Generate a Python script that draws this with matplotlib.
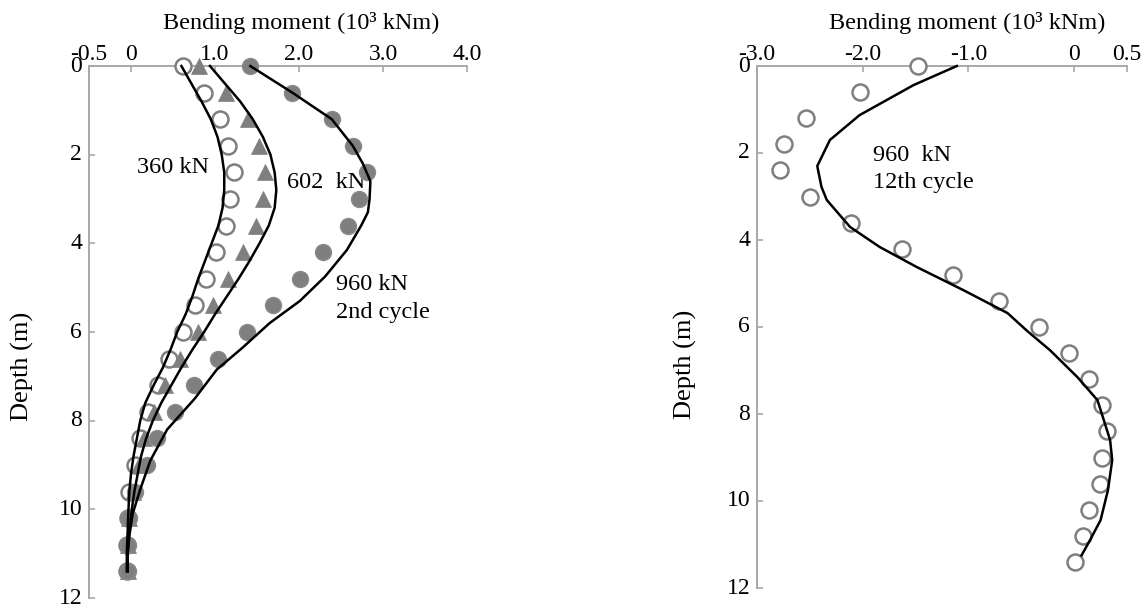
import matplotlib
matplotlib.use("Agg")
import matplotlib.pyplot as plt
from matplotlib.transforms import ScaledTranslation

plt.rcParams["font.family"] = ["Liberation Serif", "DejaVu Serif"]

# Measured depths (m)
depth = [0.0, 0.6, 1.2, 1.8, 2.4, 3.0, 3.6, 4.2, 4.8, 5.4,
         6.0, 6.6, 7.2, 7.8, 8.4, 9.0, 9.6, 10.2, 10.8, 11.4]

# Measured bending moments (10^3 kNm), left panel
m360 = [0.62, 0.87, 1.06, 1.15, 1.23, 1.18, 1.13, 1.01, 0.89, 0.76,
        0.62, 0.45, 0.32, 0.20, 0.11, 0.05, -0.02, -0.04, -0.05, -0.05]
m602 = [0.81, 1.13, 1.39, 1.52, 1.60, 1.57, 1.49, 1.33, 1.15, 0.98,
        0.80, 0.58, 0.40, 0.27, 0.15, 0.10, 0.02, -0.02, -0.03, -0.04]
m960 = [1.42, 1.92, 2.39, 2.64, 2.81, 2.71, 2.58, 2.29, 2.01, 1.69,
        1.38, 1.04, 0.75, 0.52, 0.31, 0.19, 0.05, -0.02, -0.04, -0.04]

# Computed profiles, left panel
calc360_z = [0.0, 0.4, 0.8, 1.2, 1.6, 2.0, 2.4, 2.8, 3.2, 3.6, 4.0, 4.4, 4.8,
             5.2, 5.6, 6.0, 6.4, 6.8, 7.2, 7.6, 8.0, 8.4, 8.8, 9.2, 9.6,
             10.0, 10.5, 11.0, 11.4]
calc360_m = [0.60, 0.72, 0.84, 0.95, 1.03, 1.08, 1.11, 1.11, 1.09, 1.04, 0.96,
             0.88, 0.80, 0.73, 0.65, 0.55, 0.47, 0.38, 0.27, 0.17, 0.11, 0.07,
             0.03, 0.00, -0.02, -0.03, -0.04, -0.05, -0.05]
calc602_z = [0.0, 0.4, 0.8, 1.2, 1.6, 2.0, 2.4, 2.8, 3.2, 3.6, 4.0, 4.4, 4.8,
             5.2, 5.6, 6.0, 6.4, 6.8, 7.2, 7.6, 8.0, 8.4, 8.8, 9.2, 9.6,
             10.0, 10.5, 11.0, 11.4]
calc602_m = [0.94, 1.12, 1.30, 1.45, 1.57, 1.66, 1.71, 1.73, 1.71, 1.64, 1.53,
             1.41, 1.28, 1.14, 1.00, 0.87, 0.73, 0.60, 0.48, 0.36, 0.26, 0.18,
             0.12, 0.08, 0.04, 0.01, -0.02, -0.04, -0.04]
calc960_z = [0.0, 0.6, 1.2, 1.8, 2.2, 2.6, 3.0, 3.3, 3.6, 4.15, 4.75, 5.3,
             5.8, 6.35, 6.85, 7.5, 8.2, 8.9, 9.55, 10.1, 10.6, 11.0, 11.4]
calc960_m = [1.42, 1.92, 2.39, 2.64, 2.76, 2.85, 2.84, 2.82, 2.74, 2.57, 2.31,
             2.01, 1.65, 1.33, 1.02, 0.76, 0.43, 0.23, 0.11, 0.02, -0.02,
             -0.04, -0.04]

# Right panel: 960 kN, 12th cycle
m960_12 = [-1.48, -2.03, -2.54, -2.74, -2.78, -2.50, -2.11, -1.63, -1.15, -0.71,
           -0.33, -0.05, 0.14, 0.26, 0.31, 0.26, 0.24, 0.14, 0.08, 0.01]
calc12_z = [0.0, 0.44, 1.13, 1.7, 2.3, 2.78, 3.08, 3.7, 4.16, 4.62, 5.15, 5.68,
            6.1, 6.53, 7.15, 7.68, 7.98, 8.6, 9.06, 9.75, 10.44, 10.9, 11.25]
calc12_m = [-1.11, -1.52, -2.03, -2.31, -2.43, -2.39, -2.34, -2.12, -1.84, -1.49,
            -1.05, -0.63, -0.44, -0.23, 0.03, 0.22, 0.26, 0.34, 0.36, 0.32,
            0.25, 0.15, 0.07]

left_ticks = [-0.5, 0, 1, 2, 3, 4]
left_ticklabels = ["-0.5", "0", "1.0", "2.0", "3.0", "4.0"]
right_ticks = [-3, -2, -1, 0, 0.5]
right_ticklabels = ["-3.0", "-2.0", "-1.0", "0", "0.5"]
depth_ticks = [0, 2, 4, 6, 8, 10, 12]

GREY = "#7f7f7f"
AXIS = "#a8a8a8"
W, H = 1141, 608

fig = plt.figure(figsize=(W / 100, H / 100), dpi=100)
axL = fig.add_axes([89 / W, 1 - 598 / H, 378 / W, 532 / H])
axR = fig.add_axes([757 / W, 1 - 588 / H, 370 / W, 522 / H])


def style(ax, xticks, xlabels, xlim):
    ax.set_xlim(*xlim)
    ax.set_ylim(12, 0)
    ax.xaxis.set_ticks_position("top")
    ax.set_xticks(xticks)
    ax.set_xticklabels(xlabels)
    ax.set_yticks(depth_ticks)
    for s in ("right", "bottom"):
        ax.spines[s].set_visible(False)
    for s in ("left", "top"):
        ax.spines[s].set_color(AXIS)
        ax.spines[s].set_linewidth(1.4)
    ax.tick_params(axis="both", direction="in", length=4, width=1.2,
                   color=AXIS, labelsize=17)
    ax.tick_params(axis="x", pad=1)
    ax.tick_params(axis="y", pad=5)
    ax.patch.set_visible(False)
    # depth labels sit slightly above their ticks
    lift = ScaledTranslation(0, 2.5 / 100, fig.dpi_scale_trans)
    for lab in ax.get_yticklabels():
        lab.set_transform(lab.get_transform() + lift)


style(axL, left_ticks, left_ticklabels, (-0.5, 4.0))
style(axR, right_ticks, right_ticklabels, (-3.0, 0.5))

mk = dict(markersize=11.5, linestyle="none", clip_on=False)
axL.plot(m360, depth, marker="o", color=GREY, mfc="white", mec=GREY, mew=1.8,
         zorder=3, **mk)
axL.plot(m602, depth, marker="^", color=GREY, mfc=GREY, mec=GREY, mew=0.5,
         zorder=3.1, **mk)
axL.plot(m960, depth, marker="o", color=GREY, mfc=GREY, mec="#8a8a8a", mew=1.0,
         zorder=3.2, **mk)

ln = dict(color="black", linewidth=1.8, clip_on=False, zorder=4)
axL.plot(calc360_m, calc360_z, **ln)
axL.plot(calc602_m, calc602_z, **ln)
axL.plot(calc960_m, calc960_z, **ln)

axR.plot(m960_12, depth, marker="o", color=GREY, mfc="white", mec=GREY, mew=1.8,
         zorder=3, **mk)
axR.plot(calc12_m, calc12_z, **ln)

fs = 17.5
axL.text(0.07, 2.30, "360 kN", fontsize=fs, va="center", ha="left")
axL.text(1.86, 2.62, "602  kN", fontsize=fs, va="center", ha="left")
axL.text(2.44, 4.92, "960 kN", fontsize=fs, va="center", ha="left")
axL.text(2.44, 5.57, "2nd cycle", fontsize=fs, va="center", ha="left")
axR.text(-1.90, 2.05, "960  kN", fontsize=fs, va="center", ha="left")
axR.text(-1.90, 2.67, "12th cycle", fontsize=fs, va="center", ha="left")

fig.text(301 / W, 1 - 23 / H, "Bending moment (10³ kNm)", fontsize=17.5,
         ha="center", va="center")
fig.text(967 / W, 1 - 23 / H, "Bending moment (10³ kNm)", fontsize=17.5,
         ha="center", va="center")
fig.text(22 / W, 1 - 366 / H, "Depth (m)", fontsize=19, rotation=90,
         ha="center", va="center")
fig.text(685 / W, 1 - 364 / H, "Depth (m)", fontsize=19, rotation=90,
         ha="center", va="center")

fig.savefig("out.png", dpi=100)
